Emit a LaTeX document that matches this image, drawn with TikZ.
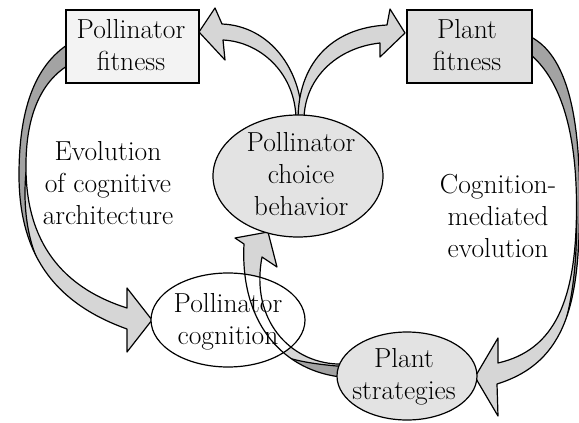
\documentclass[tikz,border=0pt]{standalone}
\usepackage{fontspec}
\usetikzlibrary{shapes.geometric}
\definecolor{arrowlight}{HTML}{D6D6D6}
\definecolor{arrowdark}{HTML}{A3A3A3}
\definecolor{ellfill}{HTML}{E3E3E3}
\definecolor{boxpale}{HTML}{F3F3F3}
\definecolor{boxgray}{HTML}{E0E0E0}
\tikzset{
  outl/.style={draw=black, line width=1.2pt, line join=round},
  txt/.style={font=\fontsize{27.5}{32}\selectfont, align=center, inner sep=0pt, anchor=north},
  boxnode/.style={rectangle, draw, line width=1.2pt, inner sep=0pt},
  ellnode/.style={ellipse, draw, line width=1.2pt, inner sep=0pt},
}
\def\shpA{(302,120) .. controls (302,70) and (270,26) .. (222,24) -- (215,8) -- (199,32) -- (225,60) -- (223,40) .. controls (262,42) and (296,75) .. (296,120) -- cycle}
\def\shpB{(298,120) .. controls (298,65) and (330,28) .. (387,25) -- (390,9) -- (405,33) -- (380,57) -- (380,43) .. controls (335,48) and (304,80) .. (304,120) -- cycle}
\def\shpC{(531,37) .. controls (565,55) and (580,110) .. (579.5,200) .. controls (580,300) and (568,362) .. (497,384) -- (498,416) -- (475,377) -- (498,338) -- (498,363) .. controls (555,350) and (576,300) .. (576.5,210) .. controls (577,130) and (560,80) .. (531,55) -- cycle}
\def\shpD{(67,45) .. controls (30,70) and (19,120) .. (19,175) .. controls (19,260) and (60,305) .. (127,329) -- (127,352) -- (152,320) -- (127,288) -- (127,308) .. controls (70,290) and (27,250) .. (26,170) .. controls (25,110) and (45,80) .. (67,66) -- cycle}
\def\shpE{(345,377) -- (337,376.5) .. controls (280,368) and (240,320) .. (244,244) -- (235,238) -- (268,232) -- (277,267) -- (262,257) .. controls (250,320) and (290,362) .. (337,364) -- (345,364) -- cycle}
\begin{document}
\begin{tikzpicture}[x=1pt,y=-1pt]
\useasboundingbox (0,0) rectangle (579,423);
% left arc arrow (Pollinator fitness -> Pollinator cognition)
\fill[arrowlight] \shpD;
\begin{scope}
  \clip \shpD;
  \fill[arrowdark] (50,282) .. controls (30,255) and (22,215) .. (26,172) -- (60,120) -- (80,90) -- (80,0) -- (0,0) -- (0,300) -- (50,300) -- cycle;
  \draw[line width=1.2pt] (50,282) .. controls (30,255) and (22,215) .. (26,172);
\end{scope}
\draw[outl] \shpD;
% right arc arrow (Plant fitness -> Plant strategies)
\fill[arrowlight] \shpC;
\begin{scope}
  \clip \shpC;
  \fill[arrowdark] (561,336) .. controls (574,300) and (578.5,250) .. (576,190) -- (540,130) -- (520,0) -- (600,0) -- (600,336) -- cycle;
  \draw[line width=1.2pt] (561,336) .. controls (574,300) and (578.5,250) .. (576,190);
\end{scope}
\draw[outl] \shpC;
% top arrows
\filldraw[outl, fill=arrowlight] \shpA;
\filldraw[outl, fill=arrowlight] \shpB;
% boxes
\node[boxnode, fill=boxpale, minimum width=133pt, minimum height=73pt] (pf) at (132.5,46.5) {};
\node[boxnode, fill=boxgray, minimum width=125pt, minimum height=73pt] (plf) at (469.5,46.5) {};
% arrow strategies -> choice
\fill[arrowlight] \shpE;
\begin{scope}
  \clip \shpE;
  \fill[arrowdark] (282,356) .. controls (300,362) and (320,365) .. (350,367) -- (350,400) -- (280,400) -- cycle;
  \draw[line width=1.2pt] (282,356) .. controls (300,362) and (320,365) .. (350,367);
\end{scope}
\node[ellnode, draw=none, fill=white, minimum width=154pt, minimum height=94pt] (cogfill) at (228,320) {};
\draw[outl] \shpE;
\node[ellnode, minimum width=154pt, minimum height=94pt] (cog) at (228,320) {};
% ellipses
\node[ellnode, fill=ellfill, minimum width=170pt, minimum height=122pt] (choice) at (298,176) {};
\node[ellnode, fill=ellfill, minimum width=140pt, minimum height=88pt] (strat) at (407,376) {};
% texts
\node[txt] (pfT) at (131,18.9) {Pollinator\\fitness};
\node[txt] (plfT) at (467,18.9) {Plant\\fitness};
\node[txt] (choiceT) at (301,131.9) {Pollinator\\choice\\behavior};
\node[txt] (cogT) at (228,292.9) {Pollinator\\cognition};
\node[txt] (stratT) at (404,347.9) {Plant\\strategies};
\node[txt] (evoT) at (108,140.9) {Evolution\\of cognitive\\architecture};
\node[txt] (cmeT) at (498,173.9) {Cognition-\\mediated\\evolution};
\end{tikzpicture}
\end{document}
